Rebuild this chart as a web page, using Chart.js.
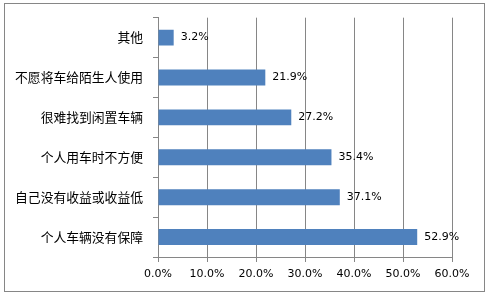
<!DOCTYPE html>
<html>
<head>
    <meta charset="utf-8">
    <title>车辆共享顾虑</title>
    <script src="https://cdn.jsdelivr.net/npm/chart.js"></script>
    <style>
        body {
            margin: 0;
            background-color: white;
        }
        canvas {
            display: block;
        }
    </style>
</head>
<body>
    <canvas id="reasonChart" width="488" height="295"></canvas>

    <script>
    // categories, top to bottom
    const reasons = ['其他', '不愿将车给陌生人使用', '很难找到闲置车辆', '个人用车时不方便', '自己没有收益或收益低', '个人车辆没有保障'];
    const shares = [3.2, 21.9, 27.2, 35.4, 37.1, 52.9];
    const xTicks = [0, 10, 20, 30, 40, 50, 60];

    const gray = '#868686';
    const numFont = { family: 'DejaVu Sans', size: 11 };

    // value labels right of each bar + the outer frame
    const extras = {
        id: 'extras',
        afterDatasetsDraw(chart) {
            const ctx = chart.ctx;
            const meta = chart.getDatasetMeta(0);
            ctx.save();
            ctx.font = '11px "DejaVu Sans"';
            ctx.fillStyle = '#000';
            ctx.textBaseline = 'middle';
            ctx.textAlign = 'left';
            meta.data.forEach((bar, i) => {
                ctx.fillText(shares[i].toFixed(1) + '%', bar.x + 7, bar.y);
            });
            ctx.restore();
        },
        afterDraw(chart) {
            const ctx = chart.ctx;
            ctx.save();
            ctx.strokeStyle = gray;
            ctx.lineWidth = 1;
            ctx.strokeRect(4.5, 3.5, 480, 288);
            ctx.restore();
        }
    };

    new Chart(document.getElementById('reasonChart'), {
        type: 'bar',
        data: {
            labels: reasons,
            datasets: [{
                data: shares,
                backgroundColor: '#4F81BD',
                borderWidth: 0,
                barPercentage: 0.4,
                categoryPercentage: 1
            }]
        },
        plugins: [extras],
        options: {
            indexAxis: 'y',
            responsive: false,
            animation: false,
            layout: {
                padding: { top: 17, right: 36, left: 0, bottom: 0 }
            },
            plugins: {
                legend: { display: false },
                tooltip: { enabled: false }
            },
            scales: {
                x: {
                    min: 0,
                    max: 60,
                    afterBuildTicks: scale => {
                        scale.ticks = xTicks.map(v => ({ value: v }));
                    },
                    afterFit: scale => { scale.height = 38; },
                    grid: {
                        color: gray,
                        lineWidth: 1,
                        tickLength: 5
                    },
                    border: { color: gray },
                    ticks: {
                        color: '#000',
                        font: numFont,
                        padding: 6,
                        maxRotation: 0,
                        callback: v => Number(v).toFixed(1) + '%'
                    }
                },
                y: {
                    afterFit: scale => { scale.width = 158; },
                    grid: {
                        offset: true,
                        drawOnChartArea: false,
                        color: gray,
                        tickLength: 5
                    },
                    border: { color: gray },
                    ticks: {
                        color: '#000',
                        font: { family: 'Noto Sans CJK SC', size: 12.8 },
                        padding: 10
                    }
                }
            }
        }
    });
    </script>
</body>
</html>
